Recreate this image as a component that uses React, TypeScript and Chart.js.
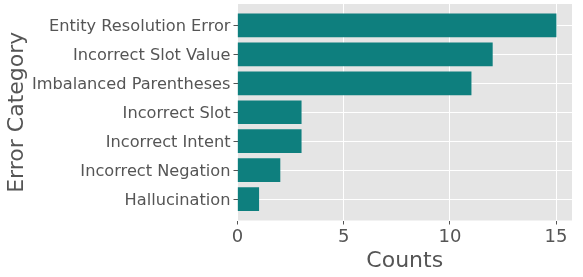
import React, { useEffect, useRef } from "react";
import { Chart, registerables } from "chart.js";

Chart.register(...registerables);

const categories = [
  "Hallucination",
  "Incorrect Negation",
  "Incorrect Intent",
  "Incorrect Slot",
  "Imbalanced Parentheses",
  "Incorrect Slot Value",
  "Entity Resolution Error",
];
const counts = [1, 2, 3, 3, 11, 12, 15];
const xTicks = [0, 5, 10, 15];

export default function App() {
  const ref = useRef<HTMLCanvasElement | null>(null);
  useEffect(() => {
    document.body.style.margin = "0";
    const ctx = ref.current!;
    const font = "'DejaVu Sans', sans-serif";
    const chart = new Chart(ctx, {
      type: "bar",
      data: {
        datasets: [
          {
            data: counts.map((v, i) => ({ x: v, y: i })),
            backgroundColor: "#0e7f7e",
            barThickness: 23,
          },
        ],
      },
      options: {
        indexAxis: "y",
        animation: false,
        responsive: false,
        maintainAspectRatio: false,
        layout: { padding: { top: 4, right: 11, left: 0, bottom: 0 } },
        plugins: {
          legend: { display: false },
          tooltip: { enabled: false },
        },
        scales: {
          x: {
            type: "linear",
            min: 0,
            max: 15.75,
            offset: false,
            afterBuildTicks: (axis: any) => {
              axis.ticks = xTicks.map((v) => ({ value: v }));
            },
            afterFit: (scale: any) => {
              scale.height = 56.5;
              scale.paddingLeft = 0;
              scale.paddingRight = 0;
            },
            grid: {
              color: "#ffffff",
              lineWidth: 1,
              offset: false,
              drawTicks: true,
              tickLength: 4,
              tickColor: "#555555",
            },
            border: { display: false },
            ticks: {
              color: "#555555",
              font: { family: font, size: 18 },
              padding: 2,
            },
            title: {
              display: true,
              text: "Counts",
              color: "#555555",
              font: { family: font, size: 22 },
              padding: { top: 0, bottom: 3 },
            },
          },
          y: {
            type: "linear",
            min: -0.74,
            max: 6.74,
            offset: false,
            afterBuildTicks: (axis: any) => {
              axis.ticks = categories.map((_, i) => ({ value: i }));
            },
            afterFit: (scale: any) => {
              scale.width = 237.5;
              scale.paddingTop = 0;
              scale.paddingBottom = 0;
            },
            grid: {
              color: "#ffffff",
              lineWidth: 1,
              offset: false,
              drawTicks: true,
              tickLength: 4,
              tickColor: "#555555",
            },
            border: { display: false },
            ticks: {
              color: "#555555",
              font: { family: font, size: 16.2 },
              padding: 3,
              labelOffset: 1.5,
              autoSkip: false,
              callback: (v: any) => categories[Math.round(Number(v))] ?? "",
            },
            title: {
              display: true,
              text: "Error Category",
              color: "#555555",
              font: { family: font, size: 22 },
              padding: { top: 4, bottom: 0 },
            },
          },
        },
      },
      plugins: [
        {
          id: "bg",
          beforeDraw: (c: any) => {
            const { ctx: g, chartArea: a } = c;
            g.save();
            g.fillStyle = "#e5e5e5";
            g.fillRect(a.left, a.top, a.right - a.left, a.bottom - a.top);
            g.restore();
          },
        },
      ],
    } as any);
    return () => chart.destroy();
  }, []);
  return (
    <div style={{ width: 583, height: 277 }}>
      <canvas ref={ref} width={583} height={277} style={{ display: "block" }} />
    </div>
  );
}
